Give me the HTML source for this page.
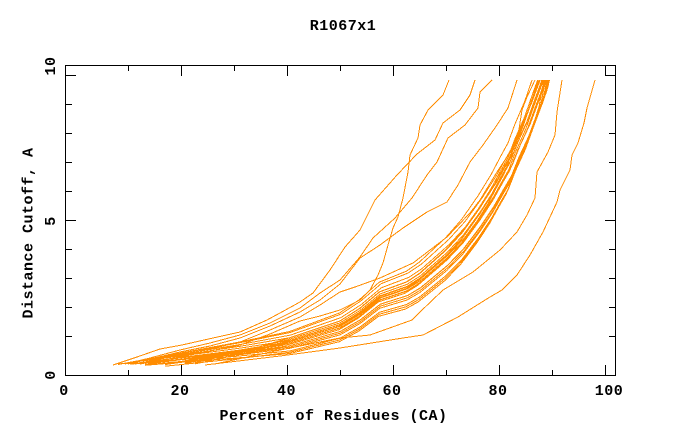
<!DOCTYPE html>
<html>
<head>
<meta charset="utf-8">
<style>
html,body{margin:0;padding:0;background:#ffffff;}
svg{display:block;}
text{font-family:"Liberation Mono","DejaVu Sans Mono",monospace;font-weight:bold;font-size:15px;letter-spacing:0.5px;fill:#000;}
</style>
</head>
<body>
<svg width="680" height="440" viewBox="0 0 680 440" xmlns="http://www.w3.org/2000/svg">
<defs>
<clipPath id="pc"><rect x="66" y="80" width="548" height="287"/></clipPath>
</defs>
<rect x="0" y="0" width="680" height="440" fill="#ffffff"/>

<!-- bundle of curves -->
<g clip-path="url(#pc)" fill="none" stroke="#ff8c00" stroke-width="1" shape-rendering="crispEdges">
<polyline points="130,364 180,358 240,351 290,343 340,328 360,316 380,300 407,291 420,283 447,260 463,243 480,220 493,200 503,182 510,170 517,152 527,130 535,108 541,92 545,80 548,65 552,45"/>
<polyline transform="matrix(1,-0.016,0.00351,1,-1.281,2)" points="118,364 180,357 240,350 290,343 340,328 360,316 380,300 407,291 420,283 447,260 463,243 480,220 493,200 503,182 510,170 517,152 527,130 535,108 541,92 545,80 548,65 552,45"/>
<polyline transform="matrix(1,0.016,-0.00702,1,2.561,-2)" points="145,364 200,356 250,349 290,343 340,328 360,316 380,300 407,291 420,283 447,260 463,243 480,220 493,200 503,182 510,170 517,152 527,130 535,108 541,92 545,80 548,65 552,45"/>
<polyline transform="matrix(1,0.032,0,1,0,-4)" points="130,364 180,358 240,351 290,343 340,328 360,316 380,300 407,291 420,283 447,260 463,243 480,220 493,200 503,182 510,170 517,152 527,130 535,108 541,92 545,80 548,65 552,45"/>
<polyline transform="matrix(1,0,0.00702,1,-2.561,0)" points="165,364 240,352 290,343 340,328 360,316 380,300 407,291 420,283 447,260 463,243 480,220 493,200 503,182 510,170 517,152 527,130 535,108 541,92 545,80 548,65 552,45"/>
<polyline transform="matrix(1,-0.032,0.01053,1,-3.842,4)" points="118,364 180,357 240,350 290,343 340,328 360,316 380,300 407,291 420,283 447,260 463,243 480,220 493,200 503,182 510,170 517,152 527,130 535,108 541,92 545,80 548,65 552,45"/>
<polyline transform="matrix(1,0.016,-0.01053,1,3.842,-2)" points="165,364 240,352 290,343 340,328 360,316 380,300 407,291 420,283 447,260 463,243 480,220 493,200 503,182 510,170 517,152 527,130 535,108 541,92 545,80 548,65 552,45"/>
<polyline transform="matrix(1,-0.008,-0.00702,1,2.561,1)" points="185,364 260,350 290,343 340,328 360,316 380,300 407,291 420,283 447,260 463,243 480,220 493,200 503,182 510,170 517,152 527,130 535,108 541,92 545,80 548,65 552,45"/>
<polyline transform="matrix(1,0.048,0.00702,1,-2.561,-6)" points="145,364 200,356 250,349 290,343 340,328 360,316 380,300 407,291 420,283 447,260 463,243 480,220 493,200 503,182 510,170 517,152 527,130 535,108 541,92 545,80 548,65 552,45"/>
<polyline transform="matrix(1,-0.048,-0.02105,1,7.684,6)" points="118,364 180,357 240,350 290,343 340,328 360,316 380,300 407,291 420,283 447,260 463,243 480,220 493,200 503,182 510,170 517,152 527,130 535,108 541,92 545,80 548,65 552,45"/>
<polyline transform="matrix(1,-0.008,0.01754,1,-6.404,1)" points="130,364 180,358 240,351 290,343 340,328 360,316 380,300 407,291 420,283 447,260 463,243 480,220 493,200 503,182 510,170 517,152 527,130 535,108 541,92 545,80 548,65 552,45"/>
<polyline transform="matrix(1,-0.064,-0.01754,1,6.404,8)" points="118,364 180,357 240,350 290,343 340,328 360,316 380,300 407,291 420,283 447,260 463,243 480,220 493,200 503,182 510,170 517,152 527,130 535,108 541,92 545,80 548,65 552,45"/>
<polyline transform="matrix(1,-0.016,-0.01404,1,5.123,2)" points="195,365 245,355 290,343 340,328 360,316 380,300 407,291 420,283 447,260 463,243 480,220 493,200 503,182 510,170 517,152 527,130 535,108 541,92 545,80 548,65 552,45"/>
<polyline transform="matrix(1,0.008,0.02807,1,-10.246,-1)" points="145,364 200,356 250,349 290,343 340,328 360,316 380,300 407,291 420,283 447,260 463,243 480,220 493,200 503,182 510,170 517,152 527,130 535,108 541,92 545,80 548,65 552,45"/>
<polyline transform="matrix(1,0.024,-0.00702,1,2.561,-3)" points="130,364 180,358 240,351 290,343 340,328 360,316 380,300 407,291 420,283 447,260 463,243 480,220 493,200 503,182 510,170 517,152 527,130 535,108 541,92 545,80 548,65 552,45"/>
<polyline transform="matrix(1,-0.024,-0.00351,1,1.281,3)" points="185,364 260,350 290,343 340,328 360,316 380,300 407,291 420,283 447,260 463,243 480,220 493,200 503,182 510,170 517,152 527,130 535,108 541,92 545,80 548,65 552,45"/>
<polyline transform="matrix(1,-0.032,0.00351,1,-1.281,4)" points="195,365 245,355 290,343 340,328 360,316 380,300 407,291 420,283 447,260 463,243 480,220 493,200 503,182 510,170 517,152 527,130 535,108 541,92 545,80 548,65 552,45"/>
<polyline transform="matrix(1,0.056,0.01404,1,-5.123,-7)" points="165,364 240,352 290,343 340,328 360,316 380,300 407,291 420,283 447,260 463,243 480,220 493,200 503,182 510,170 517,152 527,130 535,108 541,92 545,80 548,65 552,45"/>
<polyline transform="matrix(1,-0.07,0.01053,1,-3.842,8.75)" points="118,364 180,357 240,350 290,343 340,328 360,316 380,300 407,291 420,283 447,260 463,243 480,220 493,200 503,182 510,170 517,152 527,130 535,108 541,92 545,80 548,65 552,45"/>
<polyline transform="matrix(1,0.064,0.02105,1,-7.684,-8)" points="145,364 200,356 250,349 290,343 340,328 360,316 380,300 407,291 420,283 447,260 463,243 480,220 493,200 503,182 510,170 517,152 527,130 535,108 541,92 545,80 548,65 552,45"/>
</g>

<!-- outlier curves -->
<g fill="none" stroke="#ff8c00" stroke-width="1" shape-rendering="crispEdges">
<polyline points="449,80 443,95 428,110 420,125 418,138 410,155 408,172 403,198 398,217 393,228 388,245 383,263 378,275 370,290 360,300 340,310 320,316 300,321 270,334 240,345 210,351 180,357 150,362 140,364"/>
<polyline points="475,80 470,95 460,110 443,123 435,140 417,154 397,175 375,200 360,230 345,247 330,270 313,293 300,302 280,313 267,320 240,332 213,338 182,345 160,349 137,357 113,365"/>
<polyline points="492,80 480,92 478,108 465,125 448,138 437,162 427,175 412,198 395,218 373,238 360,257 340,280 320,293 300,308 270,323 240,335 210,343 180,350 150,358 125,364"/>
<polyline points="517,80 508,108 497,125 483,145 470,162 458,185 447,202 427,212 403,228 380,245 360,258 340,284 320,300 300,312 270,326 240,338 210,346 180,352 150,359 128,364"/>
<polyline points="535,80 527,97 522,110 517,142 497,172 480,200 470,213 447,237 413,263 380,278 355,287 340,292 320,305 300,317 270,330 240,342 210,349 180,355 150,361 135,364"/>
<polyline points="562,80 557,112 555,135 548,152 537,172 535,198 527,215 517,232 500,250 473,272 443,290 420,312 412,320 370,335 340,338 280,350 215,364"/>
<polyline points="595,80 587,108 584,123 578,143 572,155 570,170 560,190 557,202 543,232 530,255 517,275 502,290 490,297 458,317 423,335 403,338 340,348 280,356 205,365"/>
</g>

<!-- frame and ticks -->
<g fill="none" stroke="#000" stroke-width="1" shape-rendering="crispEdges">
<rect x="65.5" y="65.5" width="550" height="310"/>
<path d="M128.5,375V370 M181.5,375V365 M234.5,375V370 M287.5,375V365 M340.5,375V370 M393.5,375V365 M446.5,375V370 M499.5,375V365 M552.5,375V370 M605.5,375V365"/>
<path d="M128.5,66V71 M181.5,66V76 M234.5,66V71 M287.5,66V76 M340.5,66V71 M393.5,66V76 M446.5,66V71 M499.5,66V76 M552.5,66V71 M605.5,66V76"/>
<path d="M66,336.5H72 M66,307.5H72 M66,278.5H72 M66,249.5H72 M66,220.5H76 M66,191.5H72 M66,162.5H72 M66,133.5H72 M66,104.5H72 M66,75.5H76"/>
<path d="M615,336.5H609 M615,307.5H609 M615,278.5H609 M615,249.5H609 M615,220.5H605 M615,191.5H609 M615,162.5H609 M615,133.5H609 M615,104.5H609 M615,75.5H605"/>
</g>

<!-- text -->
<text x="343" y="30" text-anchor="middle">R1067x1</text>

<text x="64" y="395" text-anchor="middle">0</text>
<text x="180" y="395" text-anchor="middle">20</text>
<text x="286.5" y="395" text-anchor="middle">40</text>
<text x="392" y="395" text-anchor="middle">60</text>
<text x="498" y="395" text-anchor="middle">80</text>
<text x="609" y="395" text-anchor="middle">100</text>

<text x="333.5" y="420" text-anchor="middle">Percent of Residues (CA)</text>

<text transform="translate(55,375) rotate(-90)" text-anchor="middle">0</text>
<text transform="translate(55,221) rotate(-90)" text-anchor="middle">5</text>
<text transform="translate(55,66) rotate(-90)" text-anchor="middle">10</text>

<text transform="translate(32.5,233) rotate(-90)" text-anchor="middle">Distance Cutoff, A</text>
</svg>
</body>
</html>
